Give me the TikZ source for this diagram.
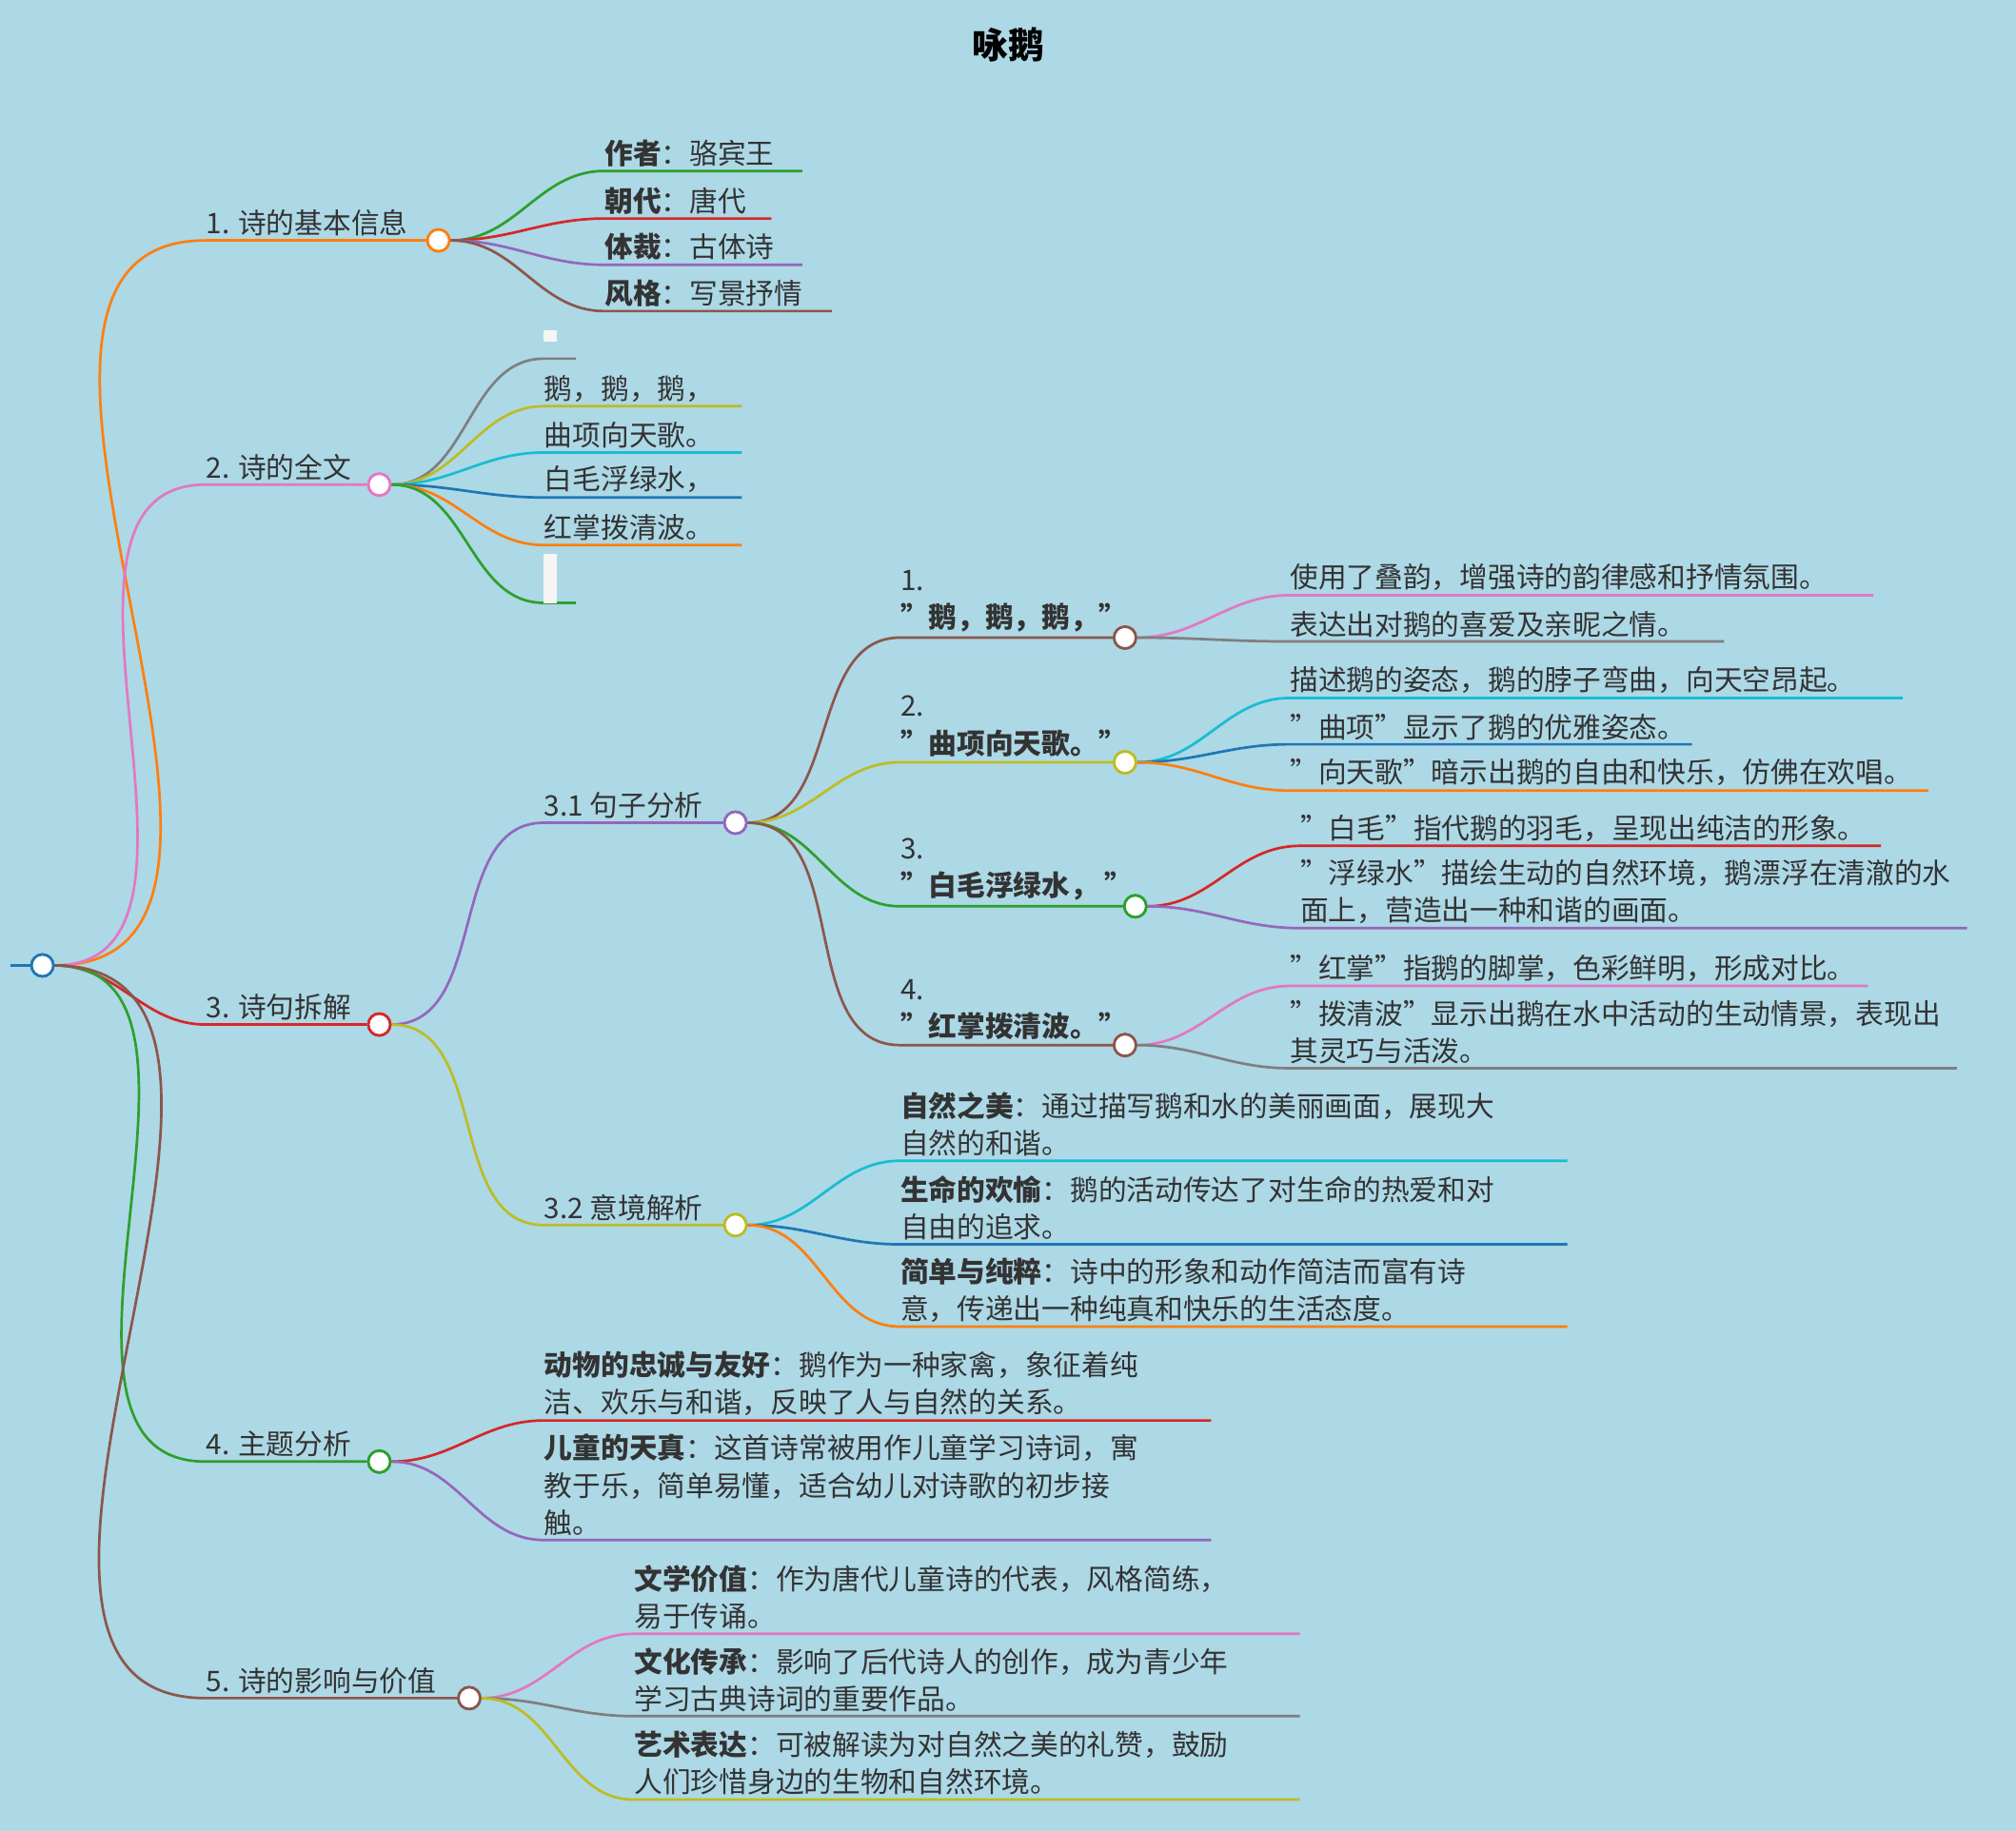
\documentclass[tikz,border=0pt]{standalone}
\usepackage{fontspec}
\setmainfont{Noto Sans CJK SC}
\definecolor{bg}{HTML}{ADD8E6}
\definecolor{cOr}{HTML}{FF7F0E}
\definecolor{cPk}{HTML}{E377C2}
\definecolor{cRd}{HTML}{D62728}
\definecolor{cGn}{HTML}{2CA02C}
\definecolor{cBr}{HTML}{8C564B}
\definecolor{cPu}{HTML}{9467BD}
\definecolor{cGy}{HTML}{7F7F7F}
\definecolor{cOl}{HTML}{BCBD22}
\definecolor{cCy}{HTML}{17BECF}
\definecolor{cBl}{HTML}{1F77B4}
\definecolor{tx}{HTML}{333333}
\tikzset{
 dot/.style={circle,draw=#1,fill=white,line width=1pt,minimum size=8.5pt,inner sep=0pt},
 lk/.style={draw=#1,line width=1pt},
 lab/.style={anchor=south west,inner sep=0pt,text=tx,font=\fontsize{11}{14.5}\selectfont,align=left},
}
\newcommand\lnk[4]{\draw[lk=#1] (#2) to[out=0,in=180] (#3) -- (#4);}
\begin{document}
\begin{tikzpicture}[x=0.5pt,y=-0.5pt]
\fill[bg] (0,0) rectangle (1568,1424);
\useasboundingbox (0,0) rectangle (1568,1424);
\node[font=\fontsize{14}{16}\selectfont\bfseries,text=black] (title) at (784,35) {咏鹅};
% root
\coordinate (r0) at (8,751);
\node[dot=cBl] (root) at (33,751) {};
\draw[lk=cBl] (r0) -- (root);
% level 1 nodes
\node[dot=cOr] (b1) at (341,187) {};
\node[dot=cPk] (b2) at (295,377) {};
\node[dot=cRd] (b3) at (295,797) {};
\node[dot=cGn] (b4) at (295,1137) {};
\node[dot=cBr] (b5) at (365,1321) {};
\coordinate (s1) at (160,187);\coordinate (s2) at (160,377);\coordinate (s3) at (160,797);
\coordinate (s4) at (160,1137);\coordinate (s5) at (160,1321);
\draw[lk=cOr] (root) to[out=0,in=180] (s1) -- (b1);
\draw[lk=cPk] (root) to[out=0,in=180] (s2) -- (b2);
\draw[lk=cRd] (root) to[out=0,in=180] (s3) -- (b3);
\draw[lk=cGn] (root) to[out=0,in=180] (s4) -- (b4);
\draw[lk=cBr] (root) to[out=0,in=180] (s5) -- (b5);
\node[lab] (t1) at (160,184) {1. 诗的基本信息};
\node[lab] (t2) at (160,374) {2. 诗的全文};
\node[lab] (t3) at (160,794) {3. 诗句拆解};
\node[lab] (t4) at (160,1134) {4. 主题分析};
\node[lab] (t5) at (160,1318) {5. 诗的影响与价值};
% branch 1 children
\coordinate (a1) at (470,133);\coordinate (a1e) at (624,133);
\coordinate (a2) at (470,170);\coordinate (a2e) at (600,170);
\coordinate (a3) at (470,206);\coordinate (a3e) at (624,206);
\coordinate (a4) at (470,242);\coordinate (a4e) at (647,242);
\lnk{cGn}{b1}{a1}{a1e}\lnk{cRd}{b1}{a2}{a2e}\lnk{cPu}{b1}{a3}{a3e}\lnk{cBr}{b1}{a4}{a4e}
\node[lab] at (470,130) {\textbf{作者}：骆宾王};
\node[lab] at (470,167) {\textbf{朝代}：唐代};
\node[lab] at (470,203) {\textbf{体裁}：古体诗};
\node[lab] at (470,239) {\textbf{风格}：写景抒情};
% branch 2 children
\coordinate (p1) at (423,279);\coordinate (p1e) at (448,279);
\coordinate (p2) at (423,316);\coordinate (p2e) at (577,316);
\coordinate (p3) at (423,352);\coordinate (p3e) at (577,352);
\coordinate (p4) at (423,387);\coordinate (p4e) at (577,387);
\coordinate (p5) at (423,424);\coordinate (p5e) at (577,424);
\coordinate (p6) at (423,469);\coordinate (p6e) at (448,469);
\lnk{cGy}{b2}{p1}{p1e}\lnk{cOl}{b2}{p2}{p2e}\lnk{cCy}{b2}{p3}{p3e}
\lnk{cBl}{b2}{p4}{p4e}\lnk{cOr}{b2}{p5}{p5e}\lnk{cGn}{b2}{p6}{p6e}
\fill[white!92!gray] (423,257) rectangle (433,266);
\fill[white!92!gray] (423,431) rectangle (433,469);
\node[lab] at (423,313) {鹅，鹅，鹅，};
\node[lab] at (423,349) {曲项向天歌。};
\node[lab] at (423,384) {白毛浮绿水，};
\node[lab] at (423,421) {红掌拨清波。};
% branch 3
\node[dot=cPu] (c1) at (572,640) {};
\node[dot=cOl] (c2) at (572,953) {};
\coordinate (q1) at (423,640);\coordinate (q2) at (423,953);
\draw[lk=cPu] (b3) to[out=0,in=180] (q1) -- (c1);
\draw[lk=cOl] (b3) to[out=0,in=180] (q2) -- (c2);
\node[lab] at (423,637) {3.1 句子分析};
\node[lab] at (423,950) {3.2 意境解析};
% 3.1 children
\node[dot=cBr] (d1) at (875,496) {};
\node[dot=cOl] (d2) at (875,593) {};
\node[dot=cGn] (d3) at (883,705) {};
\node[dot=cBr] (d4) at (875,813) {};
\coordinate (e1) at (700,496);\coordinate (e2) at (700,593);\coordinate (e3) at (700,705);\coordinate (e4) at (700,813);
\draw[lk=cBr] (c1) to[out=0,in=180] (e1) -- (d1);
\draw[lk=cOl] (c1) to[out=0,in=180] (e2) -- (d2);
\draw[lk=cGn] (c1) to[out=0,in=180] (e3) -- (d3);
\draw[lk=cBr] (c1) to[out=0,in=180] (e4) -- (d4);
\node[lab] at (700,492) {1.\\\textbf{"鹅，鹅，鹅，"}};
\node[lab] at (700,589) {2.\\\textbf{"曲项向天歌。"}};
\node[lab] at (700,701) {3.\\\textbf{"白毛浮绿水，  "}};
\node[lab] at (700,809) {4.\\\textbf{"红掌拨清波。"}};
% leaves 1
\coordinate (f1) at (1003,463);\coordinate (f1e) at (1457,463);
\coordinate (f2) at (1003,499);\coordinate (f2e) at (1341,499);
\lnk{cPk}{d1}{f1}{f1e}\lnk{cGy}{d1}{f2}{f2e}
\node[lab] at (1003,460) {使用了叠韵，增强诗的韵律感和抒情氛围。};
\node[lab] at (1003,496) {表达出对鹅的喜爱及亲昵之情。};
\coordinate (g1) at (1003,543);\coordinate (g1e) at (1480,543);
\coordinate (g2) at (1003,579);\coordinate (g2e) at (1316,579);
\coordinate (g3) at (1003,615);\coordinate (g3e) at (1500,615);
\lnk{cCy}{d2}{g1}{g1e}\lnk{cBl}{d2}{g2}{g2e}\lnk{cOr}{d2}{g3}{g3e}
\node[lab] at (1003,540) {描述鹅的姿态，鹅的脖子弯曲，向天空昂起。};
\node[lab] at (1003,576) {"曲项"显示了鹅的优雅姿态。};
\node[lab] at (1003,612) {"向天歌"暗示出鹅的自由和快乐，仿佛在欢唱。};
\coordinate (h1) at (1011,658);\coordinate (h1e) at (1463,658);
\coordinate (h2) at (1011,722);\coordinate (h2e) at (1530,722);
\lnk{cRd}{d3}{h1}{h1e}\lnk{cPu}{d3}{h2}{h2e}
\node[lab] at (1011,655) {"白毛"指代鹅的羽毛，呈现出纯洁的形象。};
\node[lab] at (1011,719) {"浮绿水"描绘生动的自然环境，鹅漂浮在清澈的水\\面上，营造出一种和谐的画面。};
\coordinate (k1) at (1003,767);\coordinate (k1e) at (1453,767);
\coordinate (k2) at (1003,831);\coordinate (k2e) at (1522,831);
\lnk{cPk}{d4}{k1}{k1e}\lnk{cGy}{d4}{k2}{k2e}
\node[lab] at (1003,764) {"红掌"指鹅的脚掌，色彩鲜明，形成对比。};
\node[lab] at (1003,828) {"拨清波"显示出鹅在水中活动的生动情景，表现出\\其灵巧与活泼。};
% 3.2 children
\coordinate (m1) at (700,903);\coordinate (m1e) at (1219,903);
\coordinate (m2) at (700,968);\coordinate (m2e) at (1219,968);
\coordinate (m3) at (700,1032);\coordinate (m3e) at (1219,1032);
\lnk{cCy}{c2}{m1}{m1e}\lnk{cBl}{c2}{m2}{m2e}\lnk{cOr}{c2}{m3}{m3e}
\node[lab] at (700,900) {\textbf{自然之美}：通过描写鹅和水的美丽画面，展现大\\自然的和谐。};
\node[lab] at (700,965) {\textbf{生命的欢愉}：鹅的活动传达了对生命的热爱和对\\自由的追求。};
\node[lab] at (700,1029) {\textbf{简单与纯粹}：诗中的形象和动作简洁而富有诗\\意，传递出一种纯真和快乐的生活态度。};
% branch 4
\coordinate (n1) at (423,1105);\coordinate (n1e) at (942,1105);
\coordinate (n2) at (423,1198);\coordinate (n2e) at (942,1198);
\lnk{cRd}{b4}{n1}{n1e}\lnk{cPu}{b4}{n2}{n2e}
\node[lab] at (423,1102) {\textbf{动物的忠诚与友好}：鹅作为一种家禽，象征着纯\\洁、欢乐与和谐，反映了人与自然的关系。};
\node[lab] at (423,1195) {\textbf{儿童的天真}：这首诗常被用作儿童学习诗词，寓\\教于乐，简单易懂，适合幼儿对诗歌的初步接\\触。};
% branch 5
\coordinate (o1) at (493,1271);\coordinate (o1e) at (1011,1271);
\coordinate (o2) at (493,1335);\coordinate (o2e) at (1011,1335);
\coordinate (o3) at (493,1400);\coordinate (o3e) at (1011,1400);
\lnk{cPk}{b5}{o1}{o1e}\lnk{cGy}{b5}{o2}{o2e}\lnk{cOl}{b5}{o3}{o3e}
\node[lab] at (493,1268) {\textbf{文学价值}：作为唐代儿童诗的代表，风格简练，\\易于传诵。};
\node[lab] at (493,1332) {\textbf{文化传承}：影响了后代诗人的创作，成为青少年\\学习古典诗词的重要作品。};
\node[lab] at (493,1397) {\textbf{艺术表达}：可被解读为对自然之美的礼赞，鼓励\\人们珍惜身边的生物和自然环境。};
% redraw dots on top
\foreach \d/\c in {root/cBl,b1/cOr,b2/cPk,b3/cRd,b4/cGn,b5/cBr,c1/cPu,c2/cOl,d1/cBr,d2/cOl,d3/cGn,d4/cBr}
  \node[dot=\c] at (\d) {};
\end{tikzpicture}
\end{document}
